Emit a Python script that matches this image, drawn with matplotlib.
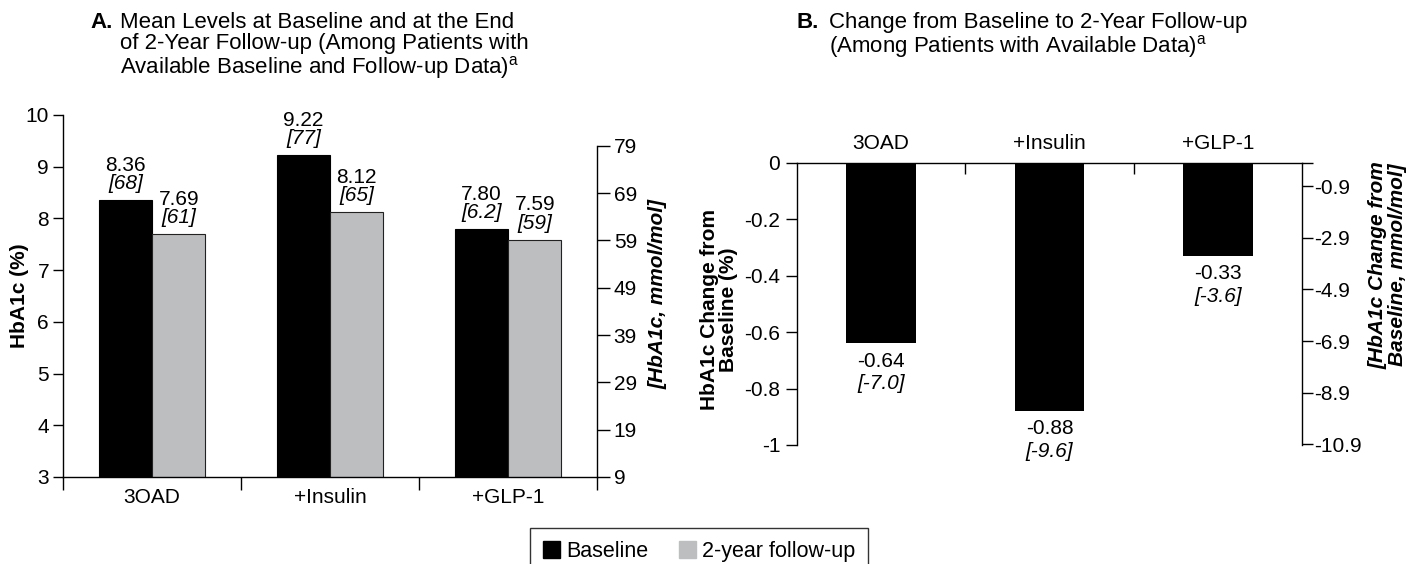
import matplotlib
matplotlib.use('Agg')
import matplotlib.pyplot as plt
from matplotlib.patches import Patch
import numpy as np

plt.rcParams['font.family'] = ['Liberation Sans', 'DejaVu Sans']
plt.rcParams['font.size'] = 15

# ---- data -------------------------------------------------------------
groups = ["3OAD", "+Insulin", "+GLP-1"]
baseline = [8.36, 9.22, 7.80]
baseline_mmol = ["[68]", "[77]", "[6.2]"]
followup = [7.69, 8.12, 7.59]
followup_mmol = ["[61]", "[65]", "[59]"]

change = [-0.64, -0.88, -0.33]
change_mmol = ["[-7.0]", "[-9.6]", "[-3.6]"]

left_ticks_a = [3, 4, 5, 6, 7, 8, 9, 10]
right_ticks_a = [9, 19, 29, 39, 49, 59, 69, 79]
left_ticks_b = [0, -0.2, -0.4, -0.6, -0.8, -1]
left_ticklabels_b = ["0", "-0.2", "-0.4", "-0.6", "-0.8", "-1"]
right_ticks_b = [0, -0.9, -2.9, -4.9, -6.9, -8.9, -10.9]

CONV = 10.93  # % -> mmol/mol slope
BLACK = "#000000"
GRAY = "#bcbec0"
FS = 15       # tick / value labels
FS_T = 16     # panel titles

W, H = 1417, 564
fig = plt.figure(figsize=(W / 100, H / 100), dpi=100)

x = np.arange(len(groups)) + 0.5

# =====================================================================
# Panel A
# =====================================================================
axA = fig.add_axes([63 / W, 1 - 477 / H, (597 - 63) / W, (477 - 115) / H])
bw = 0.30
axA.bar(x - bw / 2, baseline, bw, color=BLACK, edgecolor=BLACK, linewidth=0.8)
axA.bar(x + bw / 2, followup, bw, color=GRAY, edgecolor="#222222", linewidth=0.8)
axA.set_xlim(0, 3)
axA.set_ylim(3, 10)
axA.set_yticks(left_ticks_a)
axA.set_xticks(x)
axA.set_xticklabels(groups, fontsize=FS)
axA.set_xticks([0, 1, 2, 3], minor=True)
axA.tick_params(axis='x', which='major', length=0, pad=8)
axA.tick_params(axis='x', which='minor', length=9, width=1, direction='out')
axA.tick_params(axis='y', length=7, width=1, pad=3, labelsize=FS)
for s in ['top', 'right']:
    axA.spines[s].set_visible(False)
for s in ['left', 'bottom']:
    axA.spines[s].set_linewidth(1)

for xs, vals, mm in [(x - bw / 2, baseline, baseline_mmol),
                     (x + bw / 2, followup, followup_mmol)]:
    for xi, v, m in zip(xs, vals, mm):
        axA.annotate(m, (xi, v), xytext=(0, 8), textcoords='offset points',
                     ha='center', va='baseline', fontsize=FS, style='italic')
        axA.annotate(f"{v:.2f}", (xi, v), xytext=(0, 21), textcoords='offset points',
                     ha='center', va='baseline', fontsize=FS)

axA2 = axA.twinx()
axA2.set_ylim(9, 9 + 7 * CONV)
axA2.set_yticks(right_ticks_a)
axA2.spines['right'].set_bounds(9, 79)
axA2.spines['right'].set_linewidth(1)
for s in ['top', 'left', 'bottom']:
    axA2.spines[s].set_visible(False)
axA2.tick_params(axis='y', length=9, width=1, pad=3, labelsize=FS)

fig.text(20 / W, 1 - 296 / H, "HbA1c (%)", rotation=90, ha='center', va='center',
         fontsize=15, fontweight='bold')
fig.text(658 / W, 1 - 294 / H, "[HbA1c, mmol/mol]", rotation=90, ha='center',
         va='center', fontsize=15, fontweight='bold', style='italic')

# title A (one text block so lines stay tight)
fig.text(90 / W, 1 - 12 / H, "A.", fontsize=FS_T, fontweight='bold', va='top')
titleA = ("Mean Levels at Baseline and at the End\n"
          "of 2-Year Follow-up (Among Patients with\n"
          "Available Baseline and Follow-up Data)$^{\\mathregular{a}}$")
fig.text(120 / W, 1 - 12 / H, titleA, fontsize=FS_T, va='top', linespacing=1.0)

# =====================================================================
# Panel B
# =====================================================================
axB = fig.add_axes([797 / W, 1 - 445 / H, (1302 - 797) / W, (445 - 163) / H])
axB.bar(x, change, 0.415, color=BLACK)
axB.set_xlim(0, 3)
axB.set_ylim(-1, 0)
axB.set_yticks(left_ticks_b)
axB.set_yticklabels(left_ticklabels_b)
axB.xaxis.tick_top()
axB.set_xticks(x)
axB.set_xticklabels(groups, fontsize=FS)
axB.set_xticks([1, 2], minor=True)
axB.tick_params(axis='x', which='major', length=0, pad=7)
axB.tick_params(axis='x', which='minor', length=8, width=1, direction='in', top=True, bottom=False)
axB.tick_params(axis='y', length=8, width=1, pad=4, labelsize=FS)
for s in ['bottom', 'right']:
    axB.spines[s].set_visible(False)
for s in ['left', 'top']:
    axB.spines[s].set_linewidth(1)

for xi, v, m in zip(x, change, change_mmol):
    axB.annotate(f"{v:.2f}", (xi, v), xytext=(0, -6), textcoords='offset points',
                 ha='center', va='top', fontsize=FS)
    axB.annotate(m, (xi, v), xytext=(0, -22), textcoords='offset points',
                 ha='center', va='top', fontsize=FS, style='italic')

axB2 = axB.twinx()
axB2.set_ylim(-CONV, 0)
axB2.set_yticks(right_ticks_b)
axB2.set_yticklabels([""] + [f"{t:.1f}" for t in right_ticks_b[1:]])
axB2.spines['right'].set_linewidth(1)
for s in ['top', 'left', 'bottom']:
    axB2.spines[s].set_visible(False)
axB2.tick_params(axis='y', length=8, width=1, pad=1, labelsize=FS)

fig.text(719 / W, 1 - 310 / H, "HbA1c Change from\nBaseline (%)", rotation=90,
         ha='center', va='center', fontsize=15, fontweight='bold', linespacing=1.0)
fig.text(1388 / W, 1 - 265 / H, "[HbA1c Change from\nBaseline, mmol/mol]", rotation=90,
         ha='center', va='center', fontsize=15, fontweight='bold', style='italic',
         linespacing=1.0)

fig.text(796 / W, 1 - 12 / H, "B.", fontsize=FS_T, fontweight='bold', va='top')
titleB = ("Change from Baseline to 2-Year Follow-up\n"
          "(Among Patients with Available Data)$^{\\mathregular{a}}$")
fig.text(829 / W, 1 - 12 / H, titleB, fontsize=FS_T, va='top', linespacing=1.0)

# =====================================================================
# Legend
# =====================================================================
handles = [Patch(facecolor=BLACK, edgecolor=BLACK, label="Baseline"),
           Patch(facecolor=GRAY, edgecolor=GRAY, label="2-year follow-up")]
leg = fig.legend(handles=handles, loc='upper center', bbox_to_anchor=(699 / W, 1 - 528 / H),
                 ncol=2, frameon=True, fancybox=False, fontsize=15.5,
                 handlelength=0.8, handleheight=0.8, handletextpad=0.3,
                 columnspacing=1.4, borderpad=0.6, borderaxespad=0)
leg.get_frame().set_edgecolor('black')
leg.get_frame().set_linewidth(1)

fig.savefig("out.png", dpi=100)
